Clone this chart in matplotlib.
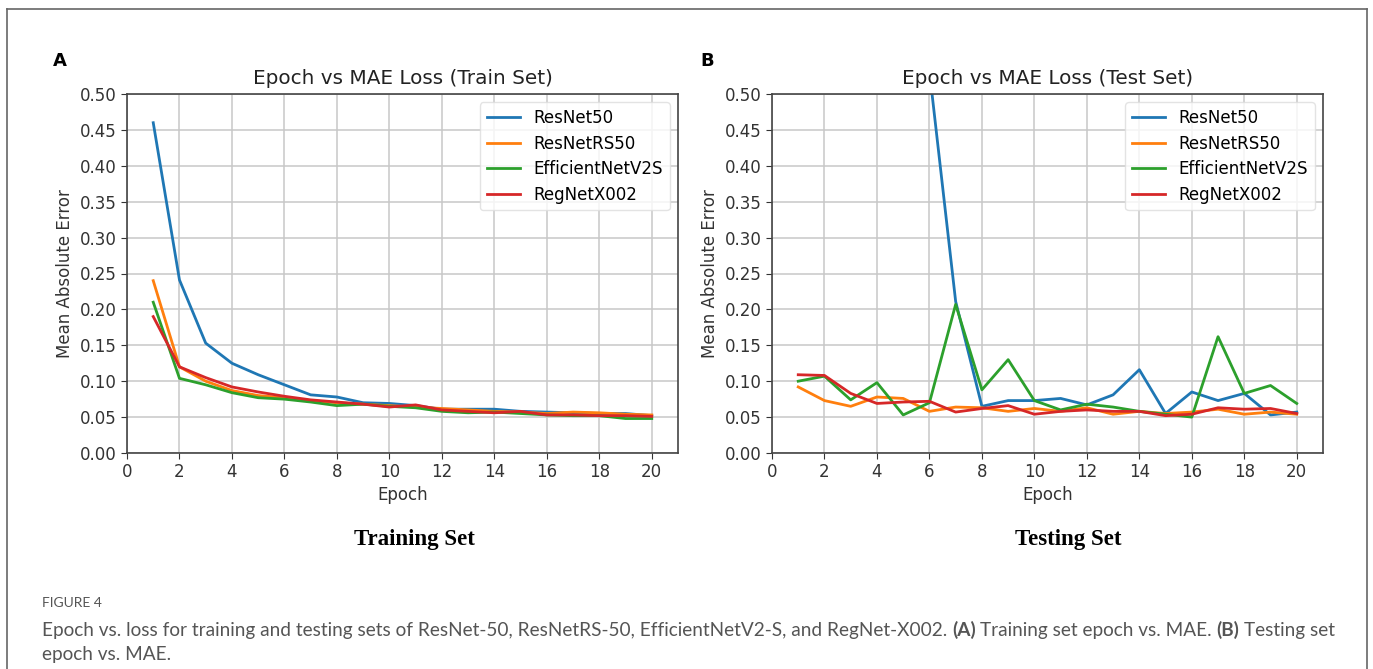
import matplotlib
matplotlib.use('Agg')
import matplotlib.pyplot as plt
from matplotlib.lines import Line2D
import numpy as np

epochs = list(range(1, 21))
models = ['ResNet50', 'ResNetRS50', 'EfficientNetV2S', 'RegNetX002']
colors = ['#1f77b4', '#ff7f0e', '#2ca02c', '#d62728']

# train set MAE
train_resnet50 = [0.460, 0.241, 0.153, 0.125, 0.109, 0.095, 0.081, 0.078, 0.070, 0.069,
                  0.066, 0.061, 0.061, 0.061, 0.058, 0.057, 0.056, 0.055, 0.055, 0.052]
train_resnetrs50 = [0.240, 0.120, 0.100, 0.087, 0.080, 0.077, 0.073, 0.070, 0.068, 0.066,
                    0.064, 0.062, 0.060, 0.058, 0.057, 0.055, 0.057, 0.056, 0.054, 0.053]
train_effnet = [0.210, 0.104, 0.095, 0.084, 0.077, 0.075, 0.071, 0.066, 0.068, 0.065,
                0.063, 0.058, 0.056, 0.057, 0.055, 0.053, 0.052, 0.052, 0.048, 0.048]
train_regnet = [0.190, 0.120, 0.105, 0.092, 0.085, 0.079, 0.074, 0.071, 0.068, 0.064,
                0.067, 0.060, 0.058, 0.056, 0.058, 0.053, 0.053, 0.052, 0.052, 0.051]

# test set MAE (ResNet50 epochs 1-6 are above the plotted range)
test_resnet50 = [3.20, 1.90, 1.10, 0.85, 0.68, 0.532, 0.211, 0.065, 0.073, 0.073,
                 0.076, 0.067, 0.081, 0.116, 0.055, 0.085, 0.073, 0.083, 0.053, 0.057]
test_resnetrs50 = [0.092, 0.073, 0.065, 0.078, 0.076, 0.058, 0.064, 0.063, 0.058, 0.062,
                   0.058, 0.063, 0.054, 0.058, 0.055, 0.057, 0.061, 0.054, 0.057, 0.054]
test_effnet = [0.100, 0.107, 0.074, 0.098, 0.053, 0.070, 0.207, 0.088, 0.130, 0.073,
               0.060, 0.068, 0.064, 0.058, 0.054, 0.050, 0.162, 0.083, 0.094, 0.069]
test_regnet = [0.109, 0.108, 0.083, 0.069, 0.071, 0.072, 0.057, 0.062, 0.066, 0.054,
               0.058, 0.060, 0.058, 0.058, 0.052, 0.054, 0.063, 0.061, 0.062, 0.055]

train = [train_resnet50, train_resnetrs50, train_effnet, train_regnet]
test = [test_resnet50, test_resnetrs50, test_effnet, test_regnet]

fig = plt.figure(figsize=(13.73, 6.69), dpi=100)
axl = fig.add_axes([127/1373, 216/669, 551/1373, 359/669])
axr = fig.add_axes([772/1373, 216/669, 551/1373, 359/669])

for ax, data, ttl in [(axl, train, 'Epoch vs MAE Loss (Train Set)'),
                      (axr, test, 'Epoch vs MAE Loss (Test Set)')]:
    for vals, name, c in zip(data, models, colors):
        ax.plot(epochs, vals, color=c, lw=2, label=name)
    ax.set_xlim(0, 21)
    ax.set_ylim(0, 0.5)
    ax.set_xticks(np.arange(0, 21, 2))
    ax.set_yticks(np.arange(0, 0.501, 0.05))
    ax.set_yticklabels(['%.2f' % v for v in np.arange(0, 0.501, 0.05)])
    ax.tick_params(labelsize=12, colors='#333333', length=4)
    ax.grid(True, color='#c8c8c8', lw=1.1)
    ax.set_axisbelow(True)
    for s in ax.spines.values():
        s.set_color('#444444')
        s.set_linewidth(1.2)
    ax.set_title(ttl, fontsize=14.4, color='#222222', pad=7)
    ax.set_xlabel('Epoch', fontsize=12, color='#333333', labelpad=3)
    ax.set_ylabel('Mean Absolute Error', fontsize=12, color='#333333')
    ax.legend(loc='upper right', fontsize=12, framealpha=0.8, edgecolor='#dddddd',
              borderpad=0.4, handlelength=2.0, labelspacing=0.45)

fig.text(53/1373, 1 - 66/669, 'A', fontsize=13, fontweight='bold', va='baseline')
fig.text(700/1373, 1 - 66/669, 'B', fontsize=13, fontweight='bold', va='baseline')
fig.text(414/1373, 1 - 545/669, 'Training Set', family='Liberation Serif', fontsize=16.5,
         fontweight='bold', ha='center', va='baseline')
fig.text(1068/1373, 1 - 545/669, 'Testing Set', family='Liberation Serif', fontsize=16.5,
         fontweight='bold', ha='center', va='baseline')

# outer frame
for xs, ys in [([7, 7], [0, 660]), ([7, 1367], [660, 660]), ([1367, 1367], [660, 0])]:
    fig.add_artist(Line2D(np.array(xs)/1373, np.array(ys)/669, color='#666666', lw=1.2))

# caption
cap_font = 'Lato'
cap_col = '#555555'
fig.text(42/1373, 1 - 607/669, 'FIGURE 4', family=cap_font, fontsize=10, color=cap_col,
         va='baseline')
renderer = fig.canvas.get_renderer()
pieces = [('Epoch vs. loss for training and testing sets of ResNet-50, ResNetRS-50, '
           'EfficientNetV2-S, and RegNet-X002.', 'normal'),
          ('(A)', 'bold'), ('Training set epoch vs. MAE.', 'normal'),
          ('(B)', 'bold'), ('Testing set', 'normal')]


def draw_line(size, keep):
    x = 42
    arts = []
    for txt, w in pieces:
        t = fig.text(x/1373, 1 - 636/669, txt, family=cap_font, fontsize=size,
                     color=cap_col, fontweight=w, va='baseline')
        x += t.get_window_extent(renderer).width + size * 0.33
        arts.append(t)
    if not keep:
        for t in arts:
            t.remove()
    return x


size = 12.0
end = draw_line(size, False)
size = size * (1336 - 42) / (end - 42)
draw_line(size, True)
fig.text(42/1373, 1 - 660/669, 'epoch vs. MAE.', family=cap_font, fontsize=size,
         color=cap_col, va='baseline')

fig.savefig('out.png', dpi=100)
